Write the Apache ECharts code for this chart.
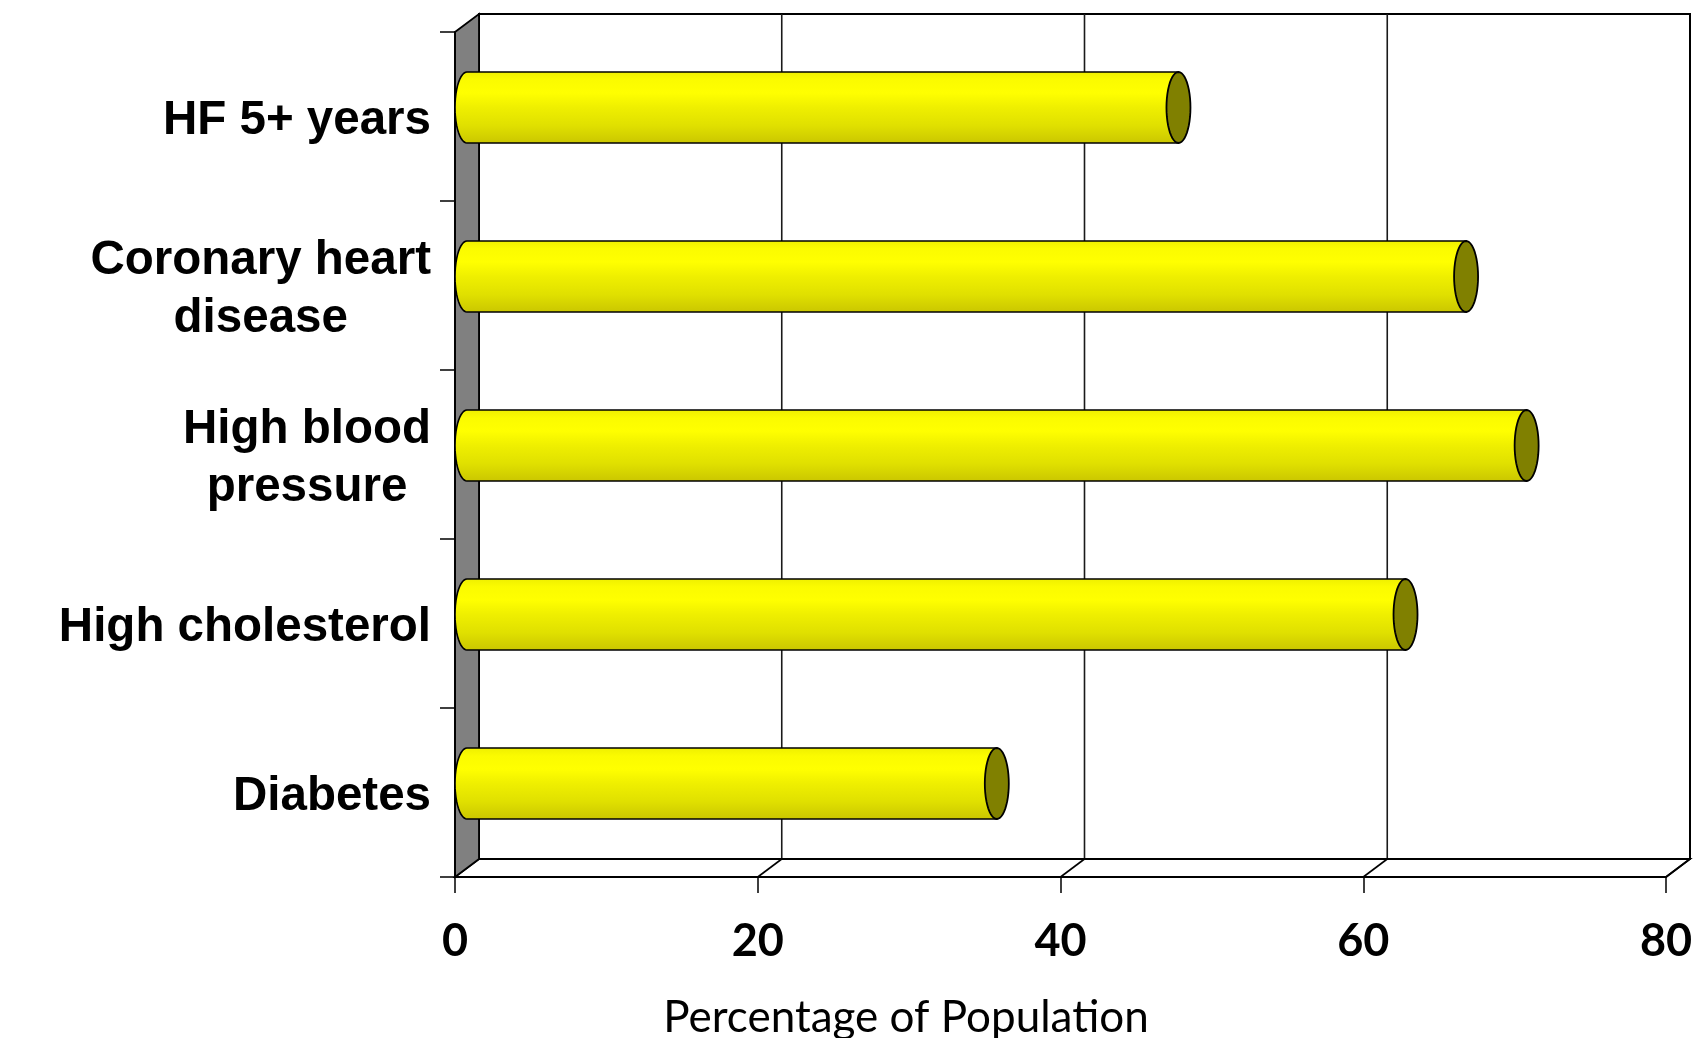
<!DOCTYPE html>
<html>
<head>
<meta charset="utf-8">
<title>Comorbidities</title>
<script src="https://cdn.jsdelivr.net/npm/echarts@6/dist/echarts.min.js"></script>
<style>
  html, body { margin: 0; padding: 0; background: #ffffff; }
  #chart { width: 1705px; height: 1038px; }
</style>
</head>
<body>
<div id="chart"></div>
<script>
// Conditions (top to bottom) and share of population with each
const categories = ['HF 5+ years', 'Coronary heart\ndisease', 'High blood\npressure', 'High cholesterol', 'Diabetes'];
const percentages = [47, 66, 70, 62, 35];
const axisMin = 0;
const axisMax = 80;
const axisStep = 20;
const axisTitle = 'Percentage of Population';

// 3-D depth of the plot box (back plane is shifted right and up)
const DEPTH_X = 24;
const DEPTH_Y = -18;
const LINE = '#000000';

const chart = echarts.init(document.getElementById('chart'));

function ellipsePoints(cx, cy, rx, ry, a0, a1, n) {
  const pts = [];
  for (let k = 0; k <= n; k++) {
    const a = a0 + (a1 - a0) * k / n;
    pts.push([cx + rx * Math.cos(a), cy + ry * Math.sin(a)]);
  }
  return pts;
}

// Walls, floor and back gridlines of the 3-D box
function renderFrame(params, api) {
  const cs = params.coordSys;
  const x0 = cs.x, y0 = cs.y, x1 = cs.x + cs.width, y1 = cs.y + cs.height;
  const children = [];
  // back wall
  children.push({
    type: 'rect',
    shape: { x: x0 + DEPTH_X, y: y0 + DEPTH_Y, width: cs.width, height: cs.height },
    style: { fill: '#ffffff', stroke: LINE, lineWidth: 2 }
  });
  // back gridlines
  for (let v = axisMin + axisStep; v < axisMax; v += axisStep) {
    const gx = api.coord([v, 0])[0] + DEPTH_X;
    children.push({
      type: 'line',
      shape: { x1: gx, y1: y0 + DEPTH_Y, x2: gx, y2: y1 + DEPTH_Y },
      style: { stroke: '#1a1a1a', lineWidth: 1.6 }
    });
  }
  // floor
  children.push({
    type: 'polygon',
    shape: { points: [[x0, y1], [x1, y1], [x1 + DEPTH_X, y1 + DEPTH_Y], [x0 + DEPTH_X, y1 + DEPTH_Y]] },
    style: { fill: '#ffffff', stroke: LINE, lineWidth: 1.8 }
  });
  for (let v = axisMin + axisStep; v <= axisMax; v += axisStep) {
    const fx = api.coord([v, 0])[0];
    children.push({
      type: 'line',
      shape: { x1: fx, y1: y1, x2: fx + DEPTH_X, y2: y1 + DEPTH_Y },
      style: { stroke: LINE, lineWidth: 1.6 }
    });
  }
  // left side wall
  children.push({
    type: 'polygon',
    shape: { points: [[x0, y0], [x0 + DEPTH_X, y0 + DEPTH_Y], [x0 + DEPTH_X, y1 + DEPTH_Y], [x0, y1]] },
    style: { fill: '#808080', stroke: LINE, lineWidth: 1.8 }
  });
  return { type: 'group', children: children };
}

// Cylinder bar sitting halfway into the box depth
function renderCylinder(params, api) {
  const value = api.value(0);
  const cat = api.value(1);
  const start = api.coord([axisMin, cat]);
  const end = api.coord([value, cat]);
  const band = api.size([0, 1])[1];
  const h = band * 0.42;
  const ry = h / 2;
  const rx = 12;
  const cy = start[1] + DEPTH_Y / 2;
  const xs = start[0] + DEPTH_X / 2;
  const xe = end[0] + DEPTH_X / 2;
  const body = ellipsePoints(xs, cy, rx, ry, -Math.PI / 2, -Math.PI * 1.5, 24);
  body.push([xe, cy + ry], [xe, cy - ry]);
  const cap = ellipsePoints(xe, cy, rx, ry, 0, Math.PI * 2, 48);
  return {
    type: 'group',
    children: [
      {
        type: 'polygon',
        shape: { points: body },
        style: {
          fill: new echarts.graphic.LinearGradient(0, 0, 0, 1, [
            { offset: 0, color: '#eeee00' },
            { offset: 0.12, color: '#fbfb00' },
            { offset: 0.3, color: '#ffff00' },
            { offset: 0.5, color: '#efef00' },
            { offset: 0.75, color: '#e0e000' },
            { offset: 1, color: '#cac600' }
          ]),
          stroke: LINE,
          lineWidth: 1.6
        }
      },
      {
        type: 'polygon',
        shape: { points: cap },
        style: { fill: '#808000', stroke: LINE, lineWidth: 1.8 }
      }
    ]
  };
}

const option = {
  backgroundColor: '#ffffff',
  animation: false,
  grid: { left: 455, right: 39, top: 32, bottom: 161, containLabel: false },
  xAxis: {
    type: 'value',
    min: axisMin,
    max: axisMax,
    interval: axisStep,
    splitLine: { show: false },
    axisLine: { show: true, lineStyle: { color: LINE, width: 1.8 } },
    axisTick: { show: true, inside: false, length: 16, lineStyle: { color: LINE, width: 1.5 } },
    axisLabel: {
      margin: 42,
      color: '#000000',
      fontFamily: 'Lato',
      fontWeight: 'bold',
      fontSize: 45
    }
  },
  yAxis: {
    type: 'category',
    inverse: true,
    data: categories,
    axisLine: { show: true, lineStyle: { color: LINE, width: 1.8 } },
    axisTick: { show: true, inside: false, length: 15, lineStyle: { color: LINE, width: 1.5 } },
    axisLabel: {
      margin: 24,
      align: 'right',
      padding: [9, 0, 0, 0],
      formatter: function (v) {
        return v.split('\n').map(function (s) { return '{c|' + s + '}'; }).join('\n');
      },
      rich: {
        c: {
          align: 'center',
          color: '#000000',
          fontFamily: 'Liberation Sans',
          fontWeight: 'bold',
          fontSize: 47.5,
          lineHeight: 58
        }
      }
    }
  },
  graphic: [
    {
      type: 'text',
      x: 906,
      y: 1018,
      style: {
        text: axisTitle,
        fill: '#000000',
        font: '44px Lato',
        textAlign: 'center',
        textVerticalAlign: 'middle'
      }
    }
  ],
  series: [
    {
      type: 'custom',
      name: 'frame',
      z: -1,
      silent: true,
      renderItem: renderFrame,
      data: [[0, 0]]
    },
    {
      type: 'custom',
      name: 'Percentage of Population',
      z: 5,
      renderItem: renderCylinder,
      encode: { x: 0, y: 1 },
      data: percentages.map(function (v, i) { return [v, i]; })
    }
  ]
};

chart.setOption(option);
</script>
</body>
</html>
